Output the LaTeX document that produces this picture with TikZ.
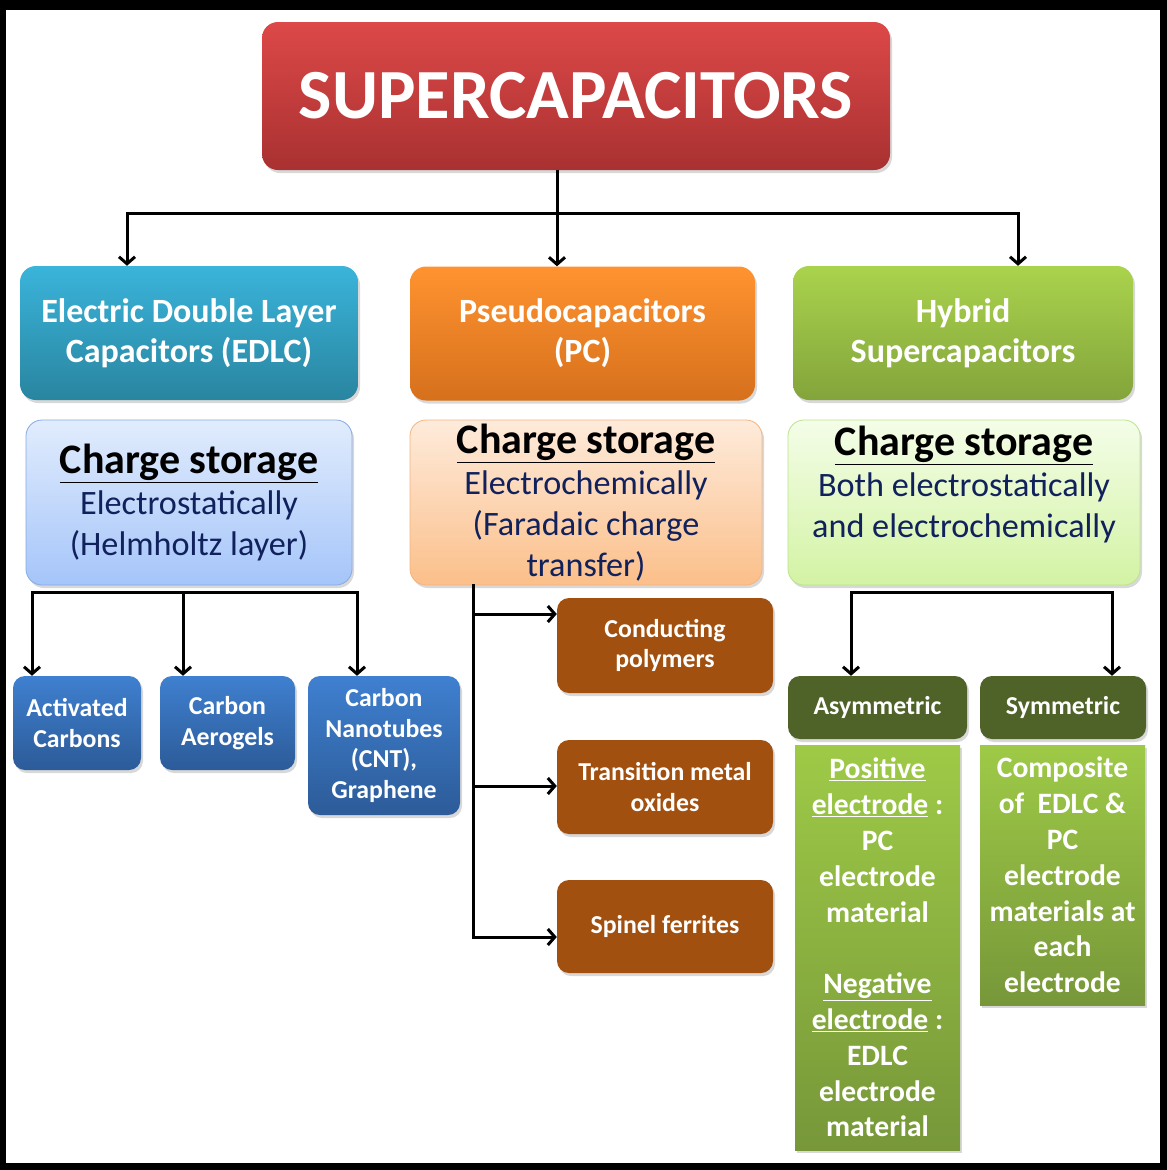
\documentclass[tikz,border=0pt]{standalone}
\usepackage{fontspec}
\setmainfont{Carlito}
\usetikzlibrary{arrows.meta,shadows}

\definecolor{titletop}{HTML}{DD4848}
\definecolor{titlebot}{HTML}{A93131}
\definecolor{edlctop}{HTML}{3AB4DA}
\definecolor{edlcbot}{HTML}{2985A0}
\definecolor{pctop}{HTML}{FF9330}
\definecolor{pcbot}{HTML}{D6701C}
\definecolor{hybtop}{HTML}{AAD34D}
\definecolor{hybbot}{HTML}{83A43B}
\definecolor{navy}{HTML}{10215C}
\definecolor{cs1top}{HTML}{E1ECFD}
\definecolor{cs1bot}{HTML}{A5C5F9}
\definecolor{cs1line}{HTML}{86ABE3}
\definecolor{cs2top}{HTML}{FEEBDB}
\definecolor{cs2bot}{HTML}{FBBF8A}
\definecolor{cs2line}{HTML}{F5B47E}
\definecolor{cs3top}{HTML}{F4FDE8}
\definecolor{cs3bot}{HTML}{D3F3A4}
\definecolor{cs3line}{HTML}{BCE48E}
\definecolor{bluetop}{HTML}{3F80D0}
\definecolor{bluebot}{HTML}{2C5B98}
\definecolor{brownbox}{HTML}{A2500F}
\definecolor{darkgreen}{HTML}{4F6228}
\definecolor{greentop}{HTML}{9ECA47}
\definecolor{greenbot}{HTML}{779739}

\tikzset{
  shade/.style={drop shadow={opacity=0.3,shadow xshift=2pt,shadow yshift=-3pt}},
  box/.style={shade, rounded corners=16pt, inner sep=0pt, align=center, text=white,
    font=\bfseries\fontsize{34}{40}\selectfont},
  csbox/.style={shade, rounded corners=16pt, inner sep=0pt, align=center, text=navy,
    draw, line width=0.8pt, minimum height=165pt, font=\fontsize{34.2}{41}\selectfont},
  smallbox/.style={shade, rounded corners=12pt, inner sep=0pt, align=center, text=white,
    font=\bfseries\fontsize{25.8}{30.7}\selectfont},
  descbox/.style={shade, inner sep=0pt, align=center, text=white, top color=greentop,
    bottom color=greenbot, minimum width=165pt, font=\bfseries\fontsize{29.6}{35.8}\selectfont},
  conn/.style={line width=3pt, line cap=rect},
  arr/.style={line width=3pt, -{Straight Barb[length=7pt,width=16pt]}}
}
\newcommand{\cstitle}{{\color{black}\bfseries\fontsize{42}{45}\selectfont\underline{Charge storage}}}

\begin{document}
\begin{tikzpicture}[x=1pt,y=-1pt]
  \useasboundingbox (0,0) rectangle (1167,1170);
  % frame
  \fill[black] (0,0) rectangle (1167,1170);
  \fill[white] (6,10) rectangle (1160,1163);

  \node[box, top color=titletop, bottom color=titlebot, minimum width=628pt, minimum height=148pt,
    font=\bfseries\fontsize{70.5}{80}\selectfont] (title) at (576,96) {SUPERCAPACITORS};

  % three kinds
  \node[box, top color=edlctop, bottom color=edlcbot, minimum width=338pt, minimum height=134pt]
    (edlc) at (189,333) {Electric Double Layer\\Capacitors (EDLC)};
  \node[box, top color=pctop, bottom color=pcbot, minimum width=345pt, minimum height=134pt]
    (pc) at (582.5,333.5) {Pseudocapacitors\\(PC)};
  \node[box, top color=hybtop, bottom color=hybbot, minimum width=340pt, minimum height=134pt]
    (hyb) at (963,333) {Hybrid\\Supercapacitors};

  % charge storage
  \node[csbox, top color=cs1top, bottom color=cs1bot, draw=cs1line,
    minimum width=326pt] (cs1) at (189,502.5)
    {\cstitle\\Electrostatically\\(Helmholtz layer)};
  \node[csbox, top color=cs2top, bottom color=cs2bot, draw=cs2line,
    minimum width=352pt] (cs2) at (586,502.5)
    {\cstitle\\Electrochemically\\(Faradaic charge\\transfer)};
  \node[csbox, top color=cs3top, bottom color=cs3bot, draw=cs3line,
    minimum width=352pt] (cs3) at (964,502.5)
    {\cstitle\\Both electrostatically\\and electrochemically\\\mbox{}};

  % EDLC materials
  \node[smallbox, top color=bluetop, bottom color=bluebot, minimum width=128pt, minimum height=94pt]
    (ac) at (77,723) {Activated\\Carbons};
  \node[smallbox, top color=bluetop, bottom color=bluebot, minimum width=135pt, minimum height=94pt]
    (ca) at (227.5,723) {Carbon\\Aerogels};
  \node[smallbox, top color=bluetop, bottom color=bluebot, minimum width=152pt, minimum height=139pt]
    (cnt) at (384,745.5) {Carbon\\Nanotubes\\(CNT),\\Graphene};

  % PC materials
  \node[smallbox, fill=brownbox, minimum width=216pt, minimum height=95pt]
    (cp) at (665,645.5) {Conducting\\polymers};
  \node[smallbox, fill=brownbox, minimum width=216pt, minimum height=94pt]
    (tmo) at (665,787) {Transition metal\\oxides};
  \node[smallbox, fill=brownbox, minimum width=216pt, minimum height=93pt]
    (sf) at (665,926.5) {Spinel ferrites};

  % hybrid kinds
  \node[smallbox, fill=darkgreen, minimum width=179pt, minimum height=63pt]
    (asym) at (877.5,707.5) {Asymmetric};
  \node[smallbox, fill=darkgreen, minimum width=166pt, minimum height=63pt]
    (sym) at (1063,707.5) {Symmetric};
  \node[descbox, minimum height=405pt] (asymtxt) at (877.5,947.5)
    {\underline{Positive}\\\underline{electrode} :\\PC\\electrode\\material\\[35.8pt]
     \underline{Negative}\\\underline{electrode} :\\EDLC\\electrode\\material};
  \node[descbox, minimum height=260pt] (symtxt) at (1062.5,875)
    {Composite\\of\ \ EDLC \&\\PC\\electrode\\materials at\\each\\electrode};

  % connectors from the top
  \coordinate (t0) at (557,213);
  \coordinate (tl) at (127,213);
  \coordinate (tr) at (1018,213);
  \draw[conn] (tl) -- (tr);
  \draw[arr] (title.south -| t0) -- (pc.north -| t0);
  \draw[arr] (tl) -- (tl |- edlc.north);
  \draw[arr] (tr) -- (tr |- hyb.north);

  % EDLC branch
  \coordinate (e1) at (32,592);
  \coordinate (e2) at (183,592);
  \coordinate (e3) at (357,592);
  \draw[conn] (e1) -- (e3);
  \draw[arr] (e1) -- (e1 |- ac.north);
  \draw[arr] (e2) -- (e2 |- ca.north);
  \draw[arr] (e3) -- (e3 |- cnt.north);

  % PC branch
  \coordinate (m1) at (473,614);
  \coordinate (m2) at (473,786);
  \coordinate (m3) at (473,937);
  \draw[conn] (cs2.south -| m1) -- (m3);
  \draw[arr] (m1) -- (m1 -| cp.west);
  \draw[arr] (m2) -- (m2 -| tmo.west);
  \draw[arr] (m3) -- (m3 -| sf.west);

  % hybrid branch
  \coordinate (h1) at (851,592);
  \coordinate (h2) at (1112,592);
  \draw[conn] (h1) -- (h2);
  \draw[arr] (h1) -- (h1 |- asym.north);
  \draw[arr] (h2) -- (h2 |- sym.north);
\end{tikzpicture}
\end{document}
